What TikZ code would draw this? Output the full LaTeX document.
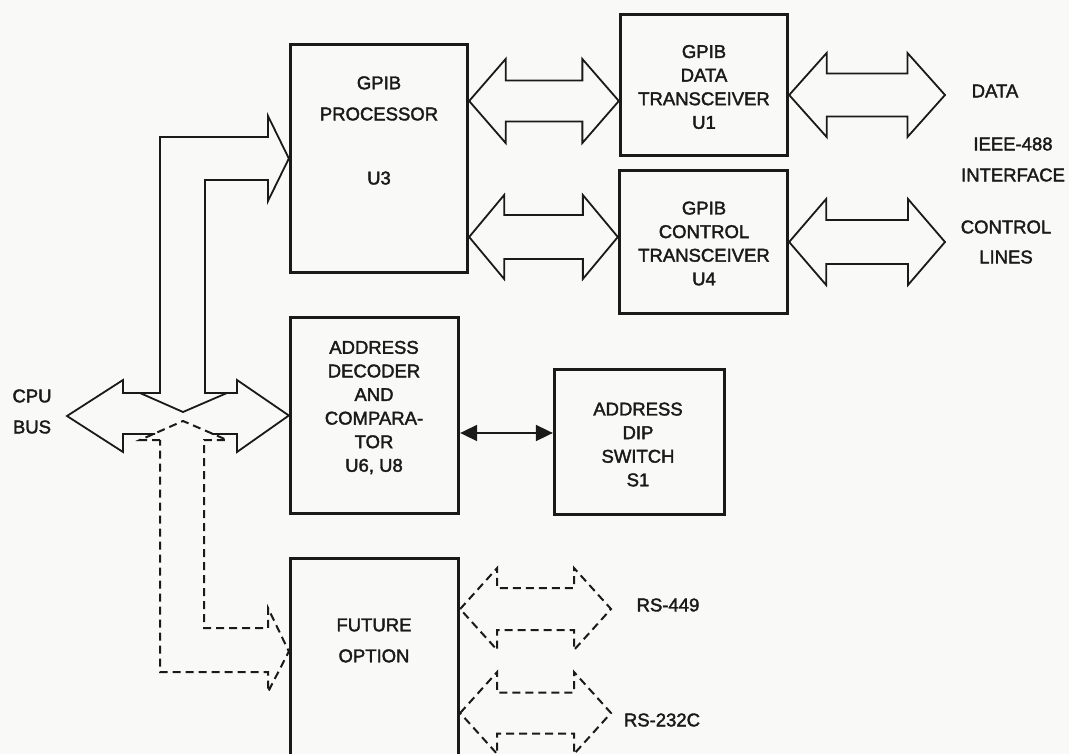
\documentclass[tikz,border=0pt]{standalone}
\usepackage{fontspec}
\setmainfont{Liberation Sans}
\newfontfamily\lblfont{Liberation Sans}[FakeBold=2]
\usetikzlibrary{arrows.meta,calc}
\definecolor{ink}{HTML}{1A1A1A}
\definecolor{paper}{HTML}{F9F9F7}
% #1 style, #2 left tip, #3 right tip, #4 y (px), #5 head half height, #6 shaft half height, #7 head length
\newcommand\fatdbl[7]{%
  \draw[#1] let \p1=(#2), \p2=(#3), \p3=(0,#4) in
   (\x1,\y3) -- (\x1+#7pt,\y3+#5pt) -- (\x1+#7pt,\y3+#6pt) -- (\x2-#7pt,\y3+#6pt)
   -- (\x2-#7pt,\y3+#5pt) -- (\x2,\y3) -- (\x2-#7pt,\y3-#5pt) -- (\x2-#7pt,\y3-#6pt)
   -- (\x1+#7pt,\y3-#6pt) -- (\x1+#7pt,\y3-#5pt) -- cycle;}
\begin{document}
\begin{tikzpicture}[x=1pt,y=-1pt,
  box/.style={draw=ink, line width=3.3pt, inner sep=0pt},
  lbl/.style={font=\lblfont\fontsize{18.5}{23.6}\selectfont, text=ink, align=center, inner sep=0pt},
  fat/.style={draw=ink, line width=1.8pt, line join=miter},
  fatdash/.style={fat, line width=2pt, dash pattern=on 8pt off 5pt},
  thinarrow/.style={draw=ink, line width=1.8pt, {Triangle[length=17pt,width=16pt]}-{Triangle[length=17pt,width=16pt]}}]
\useasboundingbox (0,0) rectangle (1069,754);
\clip (0,0) rectangle (1069,754);
\fill[paper] (0,0) rectangle (1069,754);

% boxes
\node[box, minimum width=177pt, minimum height=228pt] (proc) at (379,158.5) {};
\node[box, minimum width=167pt, minimum height=141pt] (u1) at (704,85) {};
\node[box, minimum width=168pt, minimum height=143pt] (u4) at (703.5,242) {};
\node[box, minimum width=168pt, minimum height=196pt] (dec) at (374.5,415.5) {};
\node[box, minimum width=170pt, minimum height=145pt] (dip) at (639.5,442) {};
\node[box, minimum width=168pt, minimum height=200pt] (fut) at (374.5,658.5) {};

% texts
\node[lbl] (tproc) at (379,130.5) {GPIB\\[7.5pt]PROCESSOR\\[40.5pt]U3};
\node[lbl] (tu1) at (704,87) {GPIB\\DATA\\TRANSCEIVER\\U1};
\node[lbl] (tu4) at (704,243.5) {GPIB\\CONTROL\\TRANSCEIVER\\U4};
\node[lbl] (tdec) at (374,407.5) {ADDRESS\\DECODER\\AND\\COMPARA-\\TOR\\U6, U8};
\node[lbl] (tdip) at (638,444.5) {ADDRESS\\DIP\\SWITCH\\S1};
\node[lbl] (tfut) at (374,640.5) {FUTURE\\[7.4pt]OPTION};
\node[lbl] (tcpu) at (32,411.5) {CPU\\[7.4pt]BUS};
\node[lbl] (tdata) at (995,91) {DATA};
\node[lbl] (tieee) at (1013,159.5) {IEEE-488\\[7.4pt]INTERFACE};
\node[lbl] (tctl) at (1006,242) {CONTROL\\[6.4pt]LINES};
\node[lbl] (trs1) at (668,605) {RS-449};
\node[lbl] (trs2) at (662,720) {RS-232C};

% free ends
\coordinate (dataend) at (945,95);
\coordinate (ctlend) at (945,242);
\coordinate (rs1end) at (611,609);
\coordinate (rs2end) at (611,713);
\coordinate (cpuend) at (67,416);

% fat bus arrows
\fatdbl{fat}{proc.east}{u1.west}{101}{42}{20.5}{36.5}
\fatdbl{fat}{proc.east}{u4.west}{237}{42}{22}{35}
\fatdbl{fat}{u1.east}{dataend}{95}{42}{21.5}{37.5}
\fatdbl{fat}{u4.east}{ctlend}{242}{43}{22}{37}
\fatdbl{fatdash}{fut.east}{rs1end}{609}{41}{21}{37}
\fatdbl{fatdash}{fut.east}{rs2end}{713}{41}{20.5}{37}

% CPU bus with branch to the processor
\draw[fat] (155,434) -- (123,434) -- (123,452) -- (cpuend) -- (123,380) -- (123,393)
  -- (160,393) -- (160,137) -- (268,137) -- (268,116) -- (proc.west) -- (268,201)
  -- (268,180) -- (205,180) -- (205,393) -- (237,393) -- (237,380) -- (dec.west)
  -- (237,452) -- (237,434) -- (212,434);
\draw[fat] (140,393) -- (183,412) -- (227,393);
% dashed branch to the future option
\draw[fatdash] (160,440) -- (140,440) -- (183,421) -- (227,440) -- (204,440) -- (204,628)
  -- (268,628) -- (268,608) -- ([yshift=7pt]fut.west) -- (268,692) -- (268,672)
  -- (160,672) -- cycle;

% decoder <-> dip switch
\coordinate (da) at ([yshift=-17.5pt]dec.east);
\draw[thinarrow] (da) -- (da -| dip.west);
\end{tikzpicture}
\end{document}
